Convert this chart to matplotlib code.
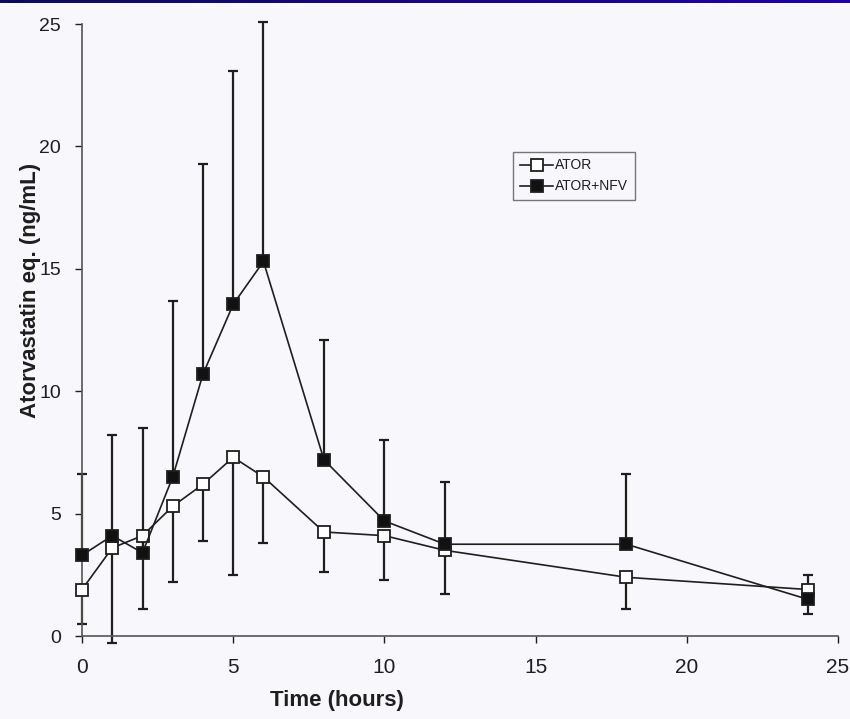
"""
Atorvastatin concentration-time profile, ATOR vs ATOR+NFV.
"""

import numpy as np
import matplotlib
matplotlib.use('Agg')
import matplotlib.pyplot as plt

time_h = [0, 1, 2, 3, 4, 5, 6, 8, 10, 12, 18, 24]

ator = [1.9, 3.6, 4.1, 5.3, 6.2, 7.3, 6.5, 4.25, 4.1, 3.5, 2.4, 1.9]
ator_lower = [0.5, -0.3, 1.1, 2.2, 3.9, 2.5, 3.8, 2.6, 2.3, 1.7, 1.1, 0.9]

ator_nfv = [3.3, 4.1, 3.4, 6.5, 10.7, 13.55, 15.3, 7.2, 4.7, 3.75, 3.75, 1.5]
ator_nfv_upper = [6.6, 8.2, 8.5, 13.7, 19.3, 23.1, 25.1, 12.1, 8.0, 6.3, 6.6, 2.5]

x_ticks = [0, 5, 10, 15, 20, 25]
y_ticks = [0, 5, 10, 15, 20, 25]

BG = '#f8f8fc'
INK = '#1e1e1e'

plt.rcParams['font.family'] = ['Liberation Sans', 'DejaVu Sans']

fig = plt.figure(figsize=(8.5, 7.19), dpi=100, facecolor=BG)
ax = fig.add_axes([0.0965, 0.1154, 0.8894, 0.8512], facecolor=BG)

# navy band across the top of the slide
band = fig.add_axes([0, 0.9958, 1, 0.0042])
navy = matplotlib.colors.LinearSegmentedColormap.from_list('navy', ['#0c0c5a', '#2200a8'])
band.imshow(np.linspace(0, 1, 256)[None, :], aspect='auto', cmap=navy, extent=[0, 1, 0, 1])
band.axis('off')

# error bars: open series downwards, filled series upwards
err_open = [[a - lo for a, lo in zip(ator, ator_lower)], [0] * len(ator)]
err_fill = [[0] * len(ator_nfv), [hi - v for v, hi in zip(ator_nfv, ator_nfv_upper)]]

ax.errorbar(time_h, ator, yerr=err_open, fmt='none', ecolor=INK, elinewidth=1.6,
            capsize=3.8, capthick=1.6, clip_on=False, zorder=2)
ax.errorbar(time_h, ator_nfv, yerr=err_fill, fmt='none', ecolor=INK, elinewidth=1.6,
            capsize=3.8, capthick=1.6, clip_on=False, zorder=2)

ax.plot(time_h, ator, color=INK, lw=1.2, marker='s', ms=9, mfc='white', mec=INK,
        mew=1.3, label='ATOR', zorder=3, clip_on=False)
ax.plot(time_h, ator_nfv, color=INK, lw=1.2, marker='s', ms=9, mfc='#111111', mec=INK,
        mew=1.3, label='ATOR+NFV', zorder=4, clip_on=False)

ax.set_xlim(0, 25)
ax.set_ylim(0, 25)
ax.set_xticks(x_ticks)
ax.set_yticks(y_ticks)
ax.tick_params(direction='out', length=5, width=1, colors=INK, labelsize=15, pad=11)
ax.tick_params(axis='y', labelsize=14, pad=10)

for side in ['top', 'right']:
    ax.spines[side].set_visible(False)
for side in ['left', 'bottom']:
    ax.spines[side].set_color('#555555')
    ax.spines[side].set_linewidth(1.2)

ax.set_xlabel('Time (hours)', fontsize=16, fontweight='bold', color=INK)
ax.set_ylabel('Atorvastatin eq. (ng/mL)', fontsize=16, fontweight='bold', color=INK)
ax.xaxis.set_label_coords(0.337, -0.089)
ax.yaxis.set_label_coords(-0.054, 0.565)

leg = ax.legend(loc='upper left', bbox_to_anchor=(0.561, 0.803), fontsize=10,
                frameon=True, fancybox=False, handlelength=2.4, handletextpad=0.1,
                borderpad=0.5, labelspacing=0.5)
leg.get_frame().set_edgecolor('#555555')
leg.get_frame().set_linewidth(1.0)
leg.get_frame().set_facecolor(BG)
for t in leg.get_texts():
    t.set_color(INK)

plt.savefig('out.png', dpi=100, facecolor=BG)
plt.close()
